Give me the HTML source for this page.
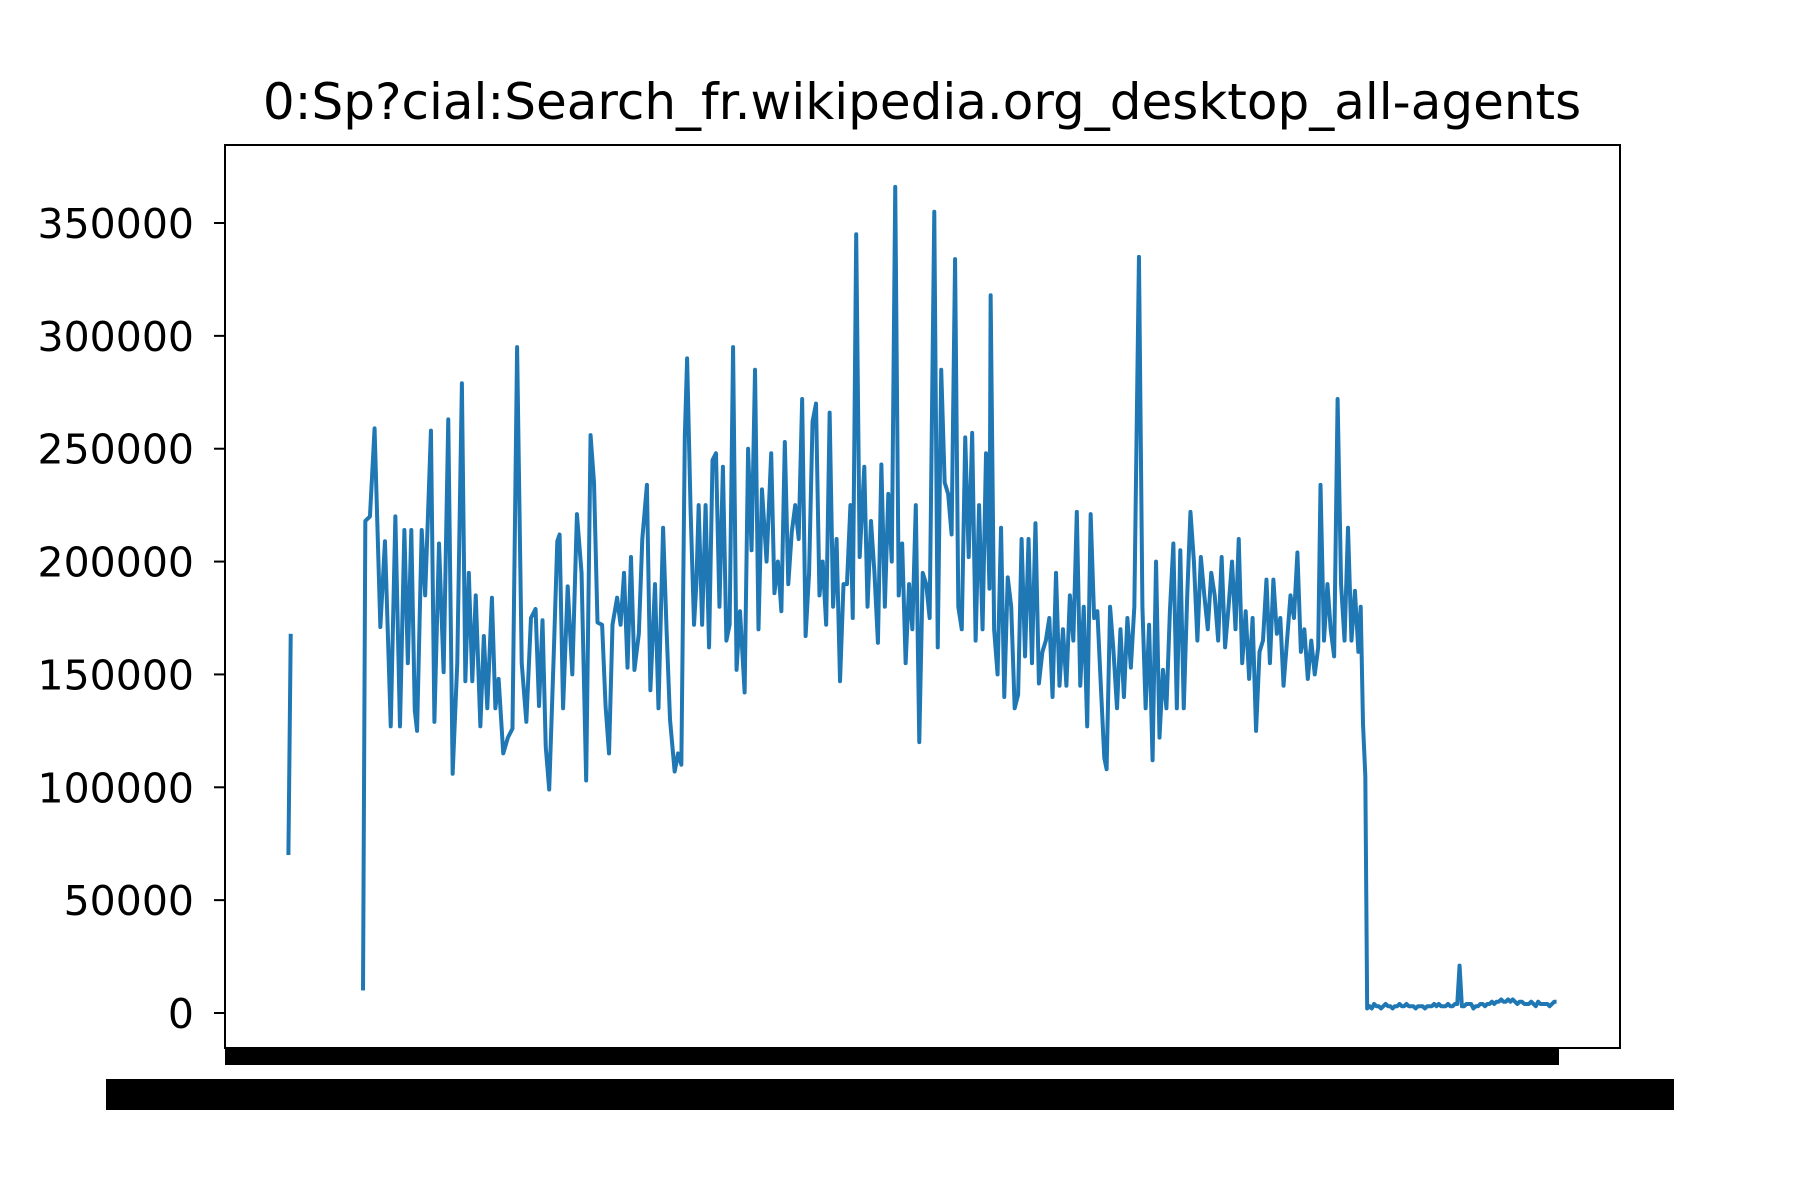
<!DOCTYPE html>
<html><head><meta charset="utf-8"><style>html,body{margin:0;padding:0;background:#fff}svg{display:block}</style></head>
<body>
<svg id="chart" width="1800" height="1200" viewBox="0 0 1800 1200" xmlns="http://www.w3.org/2000/svg" font-family="'DejaVu Sans','Liberation Sans',sans-serif">
<rect width="1800" height="1200" fill="#fff"/>
<text x="922" y="119" font-size="50" text-anchor="middle" fill="#000">0:Sp?cial:Search_fr.wikipedia.org_desktop_all-agents</text>
<g id="yaxis"></g>
<g id="xaxis">
<rect x="225" y="1048" width="1334" height="17" fill="#000"/>
<rect x="106" y="1079" width="1568" height="31" fill="#000"/>
<text x="106" y="1108" font-size="38" fill="#000">2015-07-01</text>
<text x="1674" y="1108" font-size="38" text-anchor="end" fill="#000">2016-12-31</text>
</g>
<g id="series"></g>
<rect x="225" y="145" width="1395" height="903" fill="none" stroke="#000" stroke-width="2"/>
</svg>
<script>
const yTicks = [0, 50000, 100000, 150000, 200000, 250000, 300000, 350000];
const totalDays = 550;
const seg1Days = [0, 1];
const seg1Values = [70, 168];
const seg2Days = [32.3,33.3,35.3,37.3,39.8,41.8,44.3,46.3,48.3,50.2,51.7,53.2,54.7,55.7,57.7,59.2,61.7,63.2,65.2,67.2,69.2,71.1,73.1,75.1,76.6,78.1,79.6,81.1,83.1,84.6,86.1,88.1,89.6,91.0,93.0,95.0,97.0,99.0,101.0,103.0,105.0,107.0,108.5,110.0,111.4,112.9,114.9,116.4,117.4,118.9,120.9,122.9,124.9,126.9,128.9,130.8,132.3,133.8,135.8,137.3,138.8,140.3,142.3,143.8,145.3,146.8,148.3,149.8,151.7,153.2,155.2,156.7,158.7,160.2,162.2,163.7,165.2,167.2,168.7,170.1,171.6,172.6,174.1,175.6,176.6,177.6,179.1,180.6,182.1,183.6,185.1,186.6,188.1,189.6,191.0,192.5,194.0,195.5,197.5,199.0,200.5,202.0,203.5,205.0,207.0,209.0,210.4,211.9,213.4,214.9,216.4,217.9,219.4,220.9,222.4,223.9,225.4,226.9,228.4,229.9,231.3,232.8,234.3,235.8,237.3,238.8,240.3,241.8,243.3,244.3,245.8,247.3,249.3,250.7,252.2,253.7,255.2,256.7,258.2,259.7,261.2,262.7,264.2,265.7,267.2,268.7,270.1,271.6,273.1,274.6,276.1,277.6,279.6,281.1,282.6,284.1,285.6,287.1,288.6,290.0,291.5,293.0,294.5,296.0,297.5,299.0,300.5,302.0,303.5,304.0,305.5,307.0,308.5,309.9,311.4,312.9,314.4,315.9,317.4,318.9,320.4,321.9,323.4,324.9,326.4,327.9,329.4,330.8,332.3,333.8,335.3,336.8,338.3,339.8,341.3,342.8,344.3,345.8,347.3,348.8,350.2,351.7,353.2,354.2,355.7,357.2,358.7,360.2,361.7,363.2,364.7,366.2,368.2,369.7,371.1,372.6,374.1,375.6,377.1,378.6,380.1,381.6,383.1,384.6,386.1,387.6,389.1,390.5,392.0,393.5,395.0,396.5,398.0,399.5,401.0,402.5,404.0,405.5,407.0,408.5,410.0,411.4,412.9,414.4,415.9,417.4,418.9,420.4,421.9,423.4,424.9,426.4,427.9,429.4,430.8,432.3,433.8,435.3,436.8,438.3,439.8,441.3,442.8,444.3,445.8,446.8,448.3,449.8,451.2,452.7,454.2,455.7,457.2,458.7,460.2,461.7,463.2,464.2,465.2,466.2];
const seg2Values = [10,218,220,259,171,209,127,220,127,214,155,214,134,125,214,185,258,129,208,151,263,106,155,279,147,195,147,185,127,167,135,184,135,148,115,122,126,295,155,129,175,179,136,174,118,99,160,209,212,135,189,150,221,195,103,256,235,173,172,136,115,172,184,172,195,153,202,152,168,210,234,143,190,135,215,170,130,107,115,110,255,290,223,172,190,225,172,225,162,245,248,180,242,165,172,295,152,178,142,250,205,285,170,232,200,248,186,200,178,253,190,213,225,210,272,167,195,262,270,185,200,172,266,180,210,147,190,190,225,175,345,202,242,180,218,195,164,243,180,230,200,366,185,208,155,190,170,225,120,195,190,175,355,162,285,235,230,212,334,180,170,255,202,257,165,225,170,248,188,318,170,150,215,140,193,180,135,141,210,158,210,155,217,146,160,165,175,140,195,145,170,145,185,165,222,145,180,127,221,175,178,145,113,108,180,160,135,170,140,175,153,180,335,180,135,172,112,200,122,152,135,178,208,135,205,135,185,222,200,165,202,185,170,195,185,165,202,162,180,200,170,210,155,178,148,175,125,160,165,192,155,192,168,175,145,165,185,175,204,160,170,148,165,150,162,234,165,190,170,158,272,190,165,215,165,187,160,180,128,105];
const seg3Start = 467;
const seg3Values = [2,3,2,4,3,3,2,3,4,3,3,2,3,3,4,3,3,4,3,3,3,2,3,3,3,2,3,3,3,4,3,4,3,3,3,4,3,3,4,4,21,3,3,4,4,4,2,3,3,4,4,3,4,4,5,4,5,5,6,5,5,6,5,6,5,4,5,5,4,4,4,5,4,3,5,4,4,4,4,3,4,5,5];

const X0 = 225, X1 = 1620, Y0 = 1013, perUnit = (1013 - 223) / 350000;
const xMin = -0.05 * (totalDays - 1), xMax = (totalDays - 1) * 1.05;
function xScale(d){ return X0 + (d - xMin) / (xMax - xMin) * (X1 - X0); }
function yScale(v){ return Y0 - v * perUnit; }
const NS = 'http://www.w3.org/2000/svg';
const ya = document.getElementById('yaxis');
yTicks.forEach(t => {
  const y = yScale(t);
  const l = document.createElementNS(NS, 'line');
  
  
  l.setAttribute('x1', 214); l.setAttribute('x2', 225);
  l.setAttribute('y1', y); l.setAttribute('y2', y);
  l.setAttribute('stroke', '#000'); l.setAttribute('stroke-width', 2);
  ya.appendChild(l);
  const tx = document.createElementNS(NS, 'text');
  
  
  tx.setAttribute('x', 194); tx.setAttribute('y', y + 15);
  tx.setAttribute('font-size', 41); tx.setAttribute('text-anchor', 'end');
  tx.textContent = String(t);
  ya.appendChild(tx);
});
const sg = document.getElementById('series');
function drawSeg(days, vals){
  const n = Math.min(days.length, vals.length);
  const pts = [];
  for (let i = 0; i < n; i++) pts.push(xScale(days[i]).toFixed(2) + ',' + yScale(vals[i] * 1000).toFixed(2));
  const p = document.createElementNS(NS, 'polyline');
  
  
  p.setAttribute('points', pts.join(' '));
  p.setAttribute('fill', 'none'); p.setAttribute('stroke', '#1f77b4');
  p.setAttribute('stroke-width', 4); p.setAttribute('stroke-linejoin', 'round');
  sg.appendChild(p);
}
drawSeg(seg1Days, seg1Values);
const seg3Days = seg3Values.map((_, i) => seg3Start + i);
drawSeg(seg2Days.concat(seg3Days), seg2Values.concat(seg3Values));
</script>
</body></html>
